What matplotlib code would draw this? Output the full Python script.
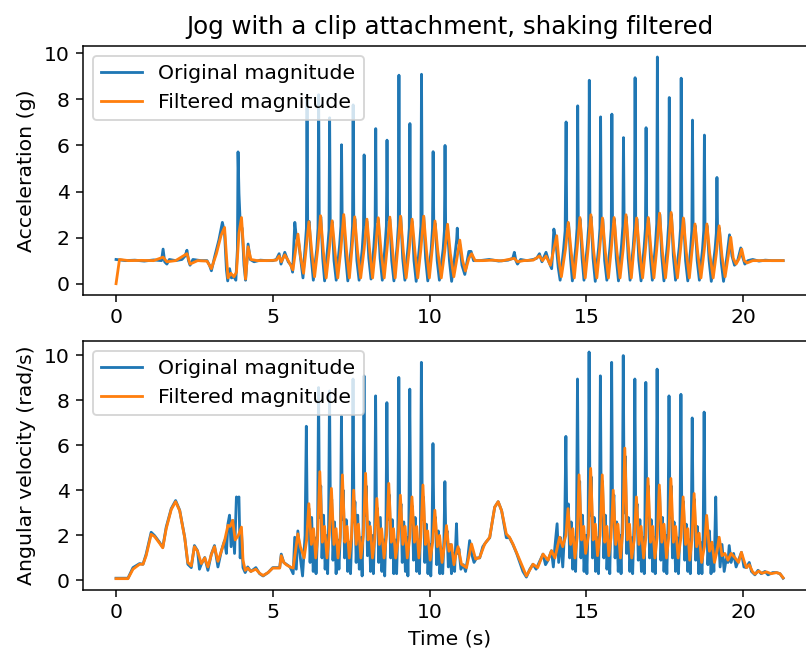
import matplotlib
matplotlib.use("Agg")
import matplotlib.pyplot as plt
import numpy as np

title = "Jog with a clip attachment, shaking filtered"
legend_labels = ["Original magnitude", "Filtered magnitude"]
ylabel_top = "Acceleration (g)"
ylabel_bottom = "Angular velocity (rad/s)"
xlabel = "Time (s)"

# (time s, value) pairs
acc_raw = [
    (0.00, 1.05), (0.30, 1.00), (0.60, 1.02), (0.90, 0.98), (1.20, 1.03), (1.45, 1.00),
    (1.50, 1.50), (1.55, 0.95), (1.62, 0.85), (1.70, 1.05), (1.90, 1.00), (2.10, 1.05),
    (2.20, 1.20), (2.26, 1.45), (2.31, 1.00), (2.36, 0.80), (2.45, 1.05), (2.70, 1.00),
    (2.90, 1.00), (2.98, 0.80), (3.04, 0.56), (3.15, 1.20), (3.28, 1.90), (3.39, 2.66),
    (3.46, 2.20), (3.52, 0.60), (3.56, 0.12), (3.62, 0.65), (3.68, 0.25), (3.76, 0.30),
    (3.82, 0.15), (3.87, 1.50), (3.89, 5.72), (3.92, 3.90), (3.96, 2.60), (4.02, 2.40),
    (4.08, 0.80), (4.13, 0.15), (4.21, 1.72), (4.28, 1.05), (4.40, 0.95), (4.60, 1.02),
    (4.80, 1.00), (5.00, 1.00), (5.11, 1.05), (5.20, 1.30), (5.26, 0.85), (5.38, 1.36),
    (5.49, 0.95), (5.58, 0.80), (5.63, 0.50), (5.70, 2.66), (5.75, 2.00), (5.82, 1.80),
    (5.90, 0.90), (5.96, 0.25),
    (6.03, 1.60), (6.07, 2.40), (6.09, 8.00), (6.11, 2.60), (6.16, 2.70), (6.22, 1.20), (6.29, 0.15),
    (6.40, 1.50), (6.44, 2.40), (6.46, 8.20), (6.48, 2.70), (6.53, 2.90), (6.59, 1.10), (6.65, 0.12),
    (6.75, 1.60), (6.79, 2.30), (6.81, 7.20), (6.83, 2.50), (6.89, 2.70), (6.95, 1.00), (7.02, 0.15),
    (7.13, 1.70), (7.17, 2.50), (7.19, 6.03), (7.21, 2.80), (7.26, 2.90), (7.32, 1.20), (7.39, 0.12),
    (7.50, 1.60), (7.54, 2.50), (7.56, 7.76), (7.58, 2.70), (7.62, 2.80), (7.68, 1.00), (7.75, 0.15),
    (7.85, 1.50), (7.89, 2.40), (7.91, 5.59), (7.93, 2.60), (8.00, 2.70), (8.06, 1.10), (8.13, 0.20),
    (8.22, 1.60), (8.26, 2.50), (8.28, 6.73), (8.30, 2.70), (8.36, 2.80), (8.42, 1.10), (8.49, 0.15),
    (8.58, 1.70), (8.62, 2.50), (8.64, 6.23), (8.66, 2.80), (8.73, 2.80), (8.79, 1.00), (8.86, 0.12),
    (8.96, 1.60), (9.00, 2.50), (9.02, 9.05), (9.04, 2.80), (9.08, 2.90), (9.14, 1.10), (9.21, 0.15),
    (9.31, 1.60), (9.35, 2.40), (9.37, 6.95), (9.39, 2.60), (9.44, 2.70), (9.50, 1.00), (9.57, 0.10),
    (9.68, 1.70), (9.72, 2.50), (9.74, 9.09), (9.76, 2.80), (9.81, 2.90), (9.87, 1.10), (9.94, 0.12),
    (10.05, 1.50), (10.09, 2.40), (10.11, 5.73), (10.13, 2.60), (10.18, 2.60), (10.24, 1.00), (10.31, 0.15),
    (10.43, 1.50), (10.47, 2.30), (10.49, 6.00), (10.51, 2.40), (10.57, 2.40), (10.63, 1.00), (10.70, 0.10),
    (10.81, 1.30), (10.86, 1.90), (10.88, 2.41), (10.90, 1.80), (10.96, 1.70), (11.03, 0.80), (11.12, 0.40),
    (11.25, 1.40), (11.32, 1.40), (11.40, 1.00), (11.60, 1.00), (11.90, 1.05), (12.20, 0.98),
    (12.50, 1.02), (12.65, 1.10), (12.70, 1.36), (12.75, 1.00), (12.80, 0.85), (12.90, 1.05),
    (13.10, 1.00), (13.30, 1.05), (13.41, 1.10), (13.50, 1.30), (13.58, 0.95), (13.71, 1.36),
    (13.80, 0.95), (13.89, 0.65), (13.96, 2.37), (14.02, 1.90), (14.10, 0.70), (14.16, 0.15),
    (14.27, 1.50), (14.32, 2.30), (14.35, 7.02), (14.37, 2.50), (14.43, 2.60), (14.49, 1.10), (14.55, 0.12),
    (14.66, 1.60), (14.70, 2.40), (14.72, 7.72), (14.74, 2.70), (14.80, 2.80), (14.86, 1.10), (14.92, 0.15),
    (15.03, 1.70), (15.07, 2.50), (15.09, 8.83), (15.11, 2.80), (15.15, 2.90), (15.21, 1.10), (15.28, 0.10),
    (15.39, 1.60), (15.43, 2.40), (15.45, 7.24), (15.47, 2.70), (15.52, 2.80), (15.58, 1.00), (15.65, 0.15),
    (15.75, 1.60), (15.79, 2.40), (15.81, 7.36), (15.83, 2.70), (15.89, 2.80), (15.95, 1.10), (16.02, 0.12),
    (16.12, 1.70), (16.16, 2.50), (16.18, 6.34), (16.20, 2.80), (16.27, 2.90), (16.33, 1.10), (16.39, 0.15),
    (16.49, 1.60), (16.53, 2.40), (16.55, 8.94), (16.57, 2.70), (16.61, 2.80), (16.67, 1.00), (16.74, 0.12),
    (16.84, 1.60), (16.88, 2.40), (16.90, 6.77), (16.92, 2.70), (16.98, 2.80), (17.04, 1.10), (17.10, 0.15),
    (17.20, 1.70), (17.24, 2.60), (17.26, 9.84), (17.28, 2.90), (17.34, 3.00), (17.40, 1.20), (17.47, 0.12),
    (17.58, 1.70), (17.62, 2.60), (17.64, 8.08), (17.66, 2.90), (17.71, 3.00), (17.77, 1.20), (17.84, 0.15),
    (17.96, 1.60), (18.00, 2.40), (18.02, 8.92), (18.04, 2.70), (18.10, 2.80), (18.16, 1.00), (18.23, 0.12),
    (18.32, 1.50), (18.36, 2.30), (18.38, 7.10), (18.40, 2.50), (18.47, 2.50), (18.53, 1.00), (18.60, 0.15),
    (18.70, 1.50), (18.74, 2.30), (18.76, 6.45), (18.78, 2.40), (18.85, 2.50), (18.91, 1.00), (18.98, 0.10),
    (19.10, 1.50), (19.14, 2.20), (19.16, 4.61), (19.18, 2.30), (19.24, 2.40), (19.30, 0.90), (19.37, 0.10),
    (19.48, 1.20), (19.53, 1.80), (19.56, 2.12), (19.59, 1.80), (19.64, 1.20), (19.72, 0.80),
    (19.82, 1.00), (19.92, 1.55), (19.97, 1.20), (20.05, 0.85), (20.15, 1.00), (20.30, 1.05),
    (20.50, 0.98), (20.70, 1.02), (20.90, 1.00), (21.10, 1.00), (21.27, 1.00),
]

acc_filt = [
    (0.00, 0.00), (0.11, 1.05), (0.40, 1.00), (0.80, 1.01), (1.20, 1.00), (1.50, 1.15),
    (1.62, 0.95), (1.90, 1.00), (2.26, 1.30), (2.36, 0.85), (2.60, 1.00), (2.90, 0.98),
    (3.04, 0.65), (3.20, 1.30), (3.35, 2.10), (3.46, 2.44), (3.52, 1.20), (3.57, 0.25),
    (3.66, 0.45), (3.76, 0.30), (3.84, 0.50), (3.92, 2.20), (4.00, 2.87), (4.07, 1.40),
    (4.13, 0.20), (4.21, 1.60), (4.30, 1.05), (4.50, 1.00), (4.80, 1.00), (5.11, 1.02),
    (5.20, 1.20), (5.27, 0.95), (5.38, 1.25), (5.49, 1.00), (5.64, 0.60), (5.72, 1.40),
    (5.80, 2.15), (5.88, 1.20), (5.98, 0.45),
    (6.06, 1.50), (6.15, 2.69), (6.24, 1.40), (6.33, 0.30),
    (6.43, 1.50), (6.52, 2.95), (6.61, 1.40), (6.70, 0.25),
    (6.80, 1.50), (6.89, 2.73), (6.98, 1.40), (7.07, 0.25),
    (7.17, 1.50), (7.26, 3.00), (7.35, 1.40), (7.44, 0.25),
    (7.52, 1.50), (7.61, 2.90), (7.70, 1.40), (7.80, 0.25),
    (7.91, 1.50), (8.00, 2.80), (8.09, 1.40), (8.18, 0.25),
    (8.27, 1.50), (8.36, 2.86), (8.45, 1.40), (8.55, 0.25),
    (8.64, 1.50), (8.73, 2.89), (8.82, 1.40), (8.90, 0.25),
    (8.98, 1.50), (9.07, 2.93), (9.16, 1.40), (9.25, 0.25),
    (9.35, 1.50), (9.44, 2.80), (9.53, 1.40), (9.62, 0.25),
    (9.72, 1.50), (9.81, 2.93), (9.90, 1.40), (9.99, 0.25),
    (10.08, 1.50), (10.17, 2.72), (10.26, 1.40), (10.37, 0.25),
    (10.48, 1.40), (10.57, 2.58), (10.66, 1.30), (10.77, 0.30),
    (10.87, 1.10), (10.96, 1.89), (11.05, 1.00), (11.14, 0.55),
    (11.25, 1.10), (11.34, 1.30), (11.45, 1.00), (11.70, 1.00), (12.00, 1.02), (12.30, 0.99),
    (12.70, 1.10), (12.80, 0.95), (13.00, 1.00), (13.30, 1.02), (13.50, 1.20), (13.60, 1.00),
    (13.71, 1.20), (13.85, 0.80), (13.96, 1.50), (14.05, 2.08), (14.12, 1.00), (14.20, 0.30),
    (14.33, 1.50), (14.42, 2.66), (14.51, 1.40), (14.61, 0.25),
    (14.70, 1.50), (14.79, 2.87), (14.88, 1.40), (14.96, 0.25),
    (15.05, 1.50), (15.14, 2.99), (15.23, 1.40), (15.33, 0.25),
    (15.42, 1.50), (15.51, 2.85), (15.60, 1.40), (15.70, 0.25),
    (15.79, 1.50), (15.88, 2.87), (15.97, 1.40), (16.07, 0.25),
    (16.17, 1.50), (16.26, 2.99), (16.35, 1.40), (16.43, 0.25),
    (16.51, 1.50), (16.60, 2.85), (16.69, 1.40), (16.79, 0.25),
    (16.88, 1.50), (16.97, 2.87), (17.06, 1.40), (17.15, 0.25),
    (17.24, 1.50), (17.33, 3.06), (17.42, 1.40), (17.52, 0.25),
    (17.61, 1.50), (17.70, 3.09), (17.79, 1.40), (17.90, 0.25),
    (18.00, 1.50), (18.09, 2.85), (18.18, 1.40), (18.28, 0.25),
    (18.37, 1.50), (18.46, 2.59), (18.55, 1.30), (18.65, 0.25),
    (18.75, 1.40), (18.84, 2.59), (18.93, 1.30), (19.04, 0.25),
    (19.14, 1.30), (19.23, 2.51), (19.32, 1.20), (19.42, 0.30),
    (19.52, 1.20), (19.60, 2.01), (19.68, 1.10), (19.77, 0.85),
    (19.87, 1.10), (19.95, 1.50), (20.03, 1.00), (20.12, 0.90), (20.30, 1.00), (20.60, 1.00),
    (21.00, 1.00), (21.27, 1.00),
]

gyr_raw = [
    (0.00, 0.10), (0.38, 0.10), (0.54, 0.57), (0.75, 0.75), (0.86, 0.72), (0.96, 1.17),
    (1.12, 2.14), (1.23, 1.99), (1.39, 1.69), (1.49, 1.47), (1.60, 2.37), (1.76, 3.19),
    (1.90, 3.55), (2.03, 3.12), (2.19, 1.92), (2.29, 0.72), (2.40, 0.57), (2.50, 1.55),
    (2.60, 1.32), (2.66, 0.50), (2.72, 0.72), (2.83, 1.02), (2.93, 0.45), (3.04, 1.17),
    (3.14, 1.55), (3.25, 0.60), (3.36, 1.32), (3.46, 1.77), (3.52, 1.20), (3.57, 2.52),
    (3.62, 2.90), (3.67, 1.50), (3.72, 2.67), (3.78, 1.20), (3.84, 3.71), (3.88, 3.60),
    (3.92, 3.71), (3.96, 1.00), (4.00, 2.20), (4.05, 0.57), (4.12, 0.35), (4.20, 0.60),
    (4.30, 0.40), (4.46, 0.57), (4.58, 0.30), (4.69, 0.20), (4.85, 0.35), (5.00, 0.57),
    (5.22, 0.57), (5.27, 1.17), (5.35, 0.80), (5.43, 0.72), (5.55, 0.60), (5.65, 0.30),
    (5.70, 1.92), (5.75, 0.50), (5.80, 2.20), (5.88, 1.00), (5.95, 0.20),
    (6.03, 2.0), (6.07, 6.85), (6.10, 2.5), (6.15, 3.2), (6.19, 0.8), (6.24, 2.8), (6.29, 0.4), (6.34, 1.9), (6.38, 0.3),
    (6.43, 2.2), (6.46, 8.57), (6.49, 2.8), (6.53, 4.2), (6.57, 1.0), (6.62, 2.9), (6.67, 0.5), (6.72, 2.0), (6.75, 0.3),
    (6.78, 2.4), (6.81, 8.42), (6.84, 2.6), (6.88, 3.6), (6.92, 0.9), (6.97, 2.6), (7.02, 0.3), (7.07, 1.8), (7.11, 0.5),
    (7.16, 2.3), (7.19, 7.30), (7.22, 2.7), (7.25, 4.0), (7.29, 1.0), (7.34, 2.7), (7.39, 0.4), (7.44, 1.7), (7.48, 0.3),
    (7.53, 2.5), (7.56, 8.95), (7.59, 2.6), (7.62, 3.5), (7.66, 0.8), (7.71, 2.9), (7.76, 0.5), (7.81, 1.9), (7.85, 0.2),
    (7.88, 2.4), (7.91, 9.09), (7.94, 2.9), (7.98, 4.2), (8.02, 1.1), (8.07, 2.6), (8.12, 0.4), (8.17, 2.0), (8.21, 0.3),
    (8.25, 2.3), (8.28, 8.20), (8.31, 2.5), (8.34, 3.2), (8.38, 0.8), (8.43, 2.8), (8.48, 0.4), (8.53, 1.8), (8.57, 0.2),
    (8.61, 2.4), (8.64, 7.90), (8.67, 2.7), (8.72, 3.8), (8.76, 1.0), (8.81, 2.7), (8.86, 0.3), (8.91, 1.8), (8.95, 0.3),
    (8.99, 2.3), (9.02, 9.02), (9.05, 2.6), (9.09, 3.4), (9.13, 0.8), (9.18, 2.6), (9.23, 0.4), (9.28, 1.9), (9.31, 0.2),
    (9.34, 2.3), (9.37, 8.50), (9.40, 2.5), (9.45, 3.3), (9.49, 0.9), (9.54, 2.8), (9.59, 0.4), (9.64, 1.8), (9.68, 0.3),
    (9.71, 2.4), (9.74, 9.69), (9.77, 2.7), (9.81, 3.7), (9.85, 0.8), (9.90, 2.5), (9.95, 0.3), (10.00, 1.6), (10.04, 0.2),
    (10.08, 2.0), (10.11, 6.08), (10.14, 2.2), (10.19, 2.8), (10.23, 0.7), (10.28, 2.2), (10.33, 0.3), (10.38, 1.4), (10.42, 0.3),
    (10.46, 1.8), (10.49, 4.39), (10.52, 1.8), (10.56, 2.2), (10.60, 0.6), (10.65, 1.6), (10.70, 0.3), (10.75, 1.2), (10.80, 0.4),
    (10.83, 1.5), (10.86, 2.52), (10.89, 1.2), (10.94, 1.4), (11.00, 0.5), (11.08, 0.7), (11.15, 0.4),
    (11.22, 1.0), (11.28, 1.77), (11.34, 1.2), (11.42, 0.8), (11.50, 1.0), (11.60, 1.0), (11.70, 1.5),
    (11.80, 1.7), (11.92, 1.9), (12.00, 2.6), (12.08, 3.26), (12.19, 3.50), (12.30, 3.1), (12.40, 2.3),
    (12.45, 1.9), (12.55, 1.9), (12.66, 1.6), (12.78, 1.2), (12.88, 0.8), (12.98, 0.4), (13.09, 0.15),
    (13.20, 0.5), (13.30, 0.72), (13.40, 0.5), (13.50, 0.8), (13.62, 1.17), (13.70, 0.7), (13.78, 0.9),
    (13.89, 1.32), (13.95, 0.6), (14.00, 1.5), (14.07, 2.52), (14.12, 0.8), (14.18, 1.9), (14.25, 0.6),
    (14.31, 2.2), (14.35, 6.40), (14.38, 2.6), (14.43, 3.4), (14.47, 1.0), (14.52, 2.6), (14.57, 0.5), (14.62, 1.9), (14.66, 0.4),
    (14.69, 2.4), (14.72, 8.95), (14.75, 2.8), (14.79, 4.4), (14.83, 1.0), (14.88, 2.9), (14.93, 0.4), (14.98, 2.0), (15.02, 0.3),
    (15.06, 2.5), (15.09, 10.15), (15.12, 2.9), (15.16, 4.6), (15.20, 1.0), (15.25, 2.8), (15.30, 0.4), (15.35, 1.9), (15.39, 0.3),
    (15.42, 2.5), (15.45, 9.09), (15.48, 2.8), (15.52, 4.4), (15.56, 1.0), (15.61, 2.9), (15.66, 0.5), (15.71, 1.8), (15.75, 0.3),
    (15.78, 2.4), (15.81, 9.69), (15.84, 2.7), (15.88, 3.8), (15.92, 1.0), (15.97, 2.6), (16.02, 0.4), (16.07, 2.0), (16.11, 0.3),
    (16.15, 2.6), (16.18, 9.99), (16.21, 3.0), (16.25, 5.5), (16.29, 1.2), (16.34, 2.8), (16.39, 0.4), (16.44, 1.9), (16.48, 0.3),
    (16.52, 2.4), (16.55, 8.95), (16.58, 2.6), (16.62, 3.4), (16.66, 0.9), (16.71, 2.7), (16.76, 0.4), (16.81, 1.9), (16.85, 0.3),
    (16.87, 2.4), (16.90, 8.80), (16.93, 2.8), (16.98, 4.2), (17.02, 1.0), (17.07, 2.7), (17.12, 0.4), (17.17, 1.9), (17.20, 0.3),
    (17.23, 2.5), (17.26, 9.39), (17.29, 2.7), (17.34, 4.0), (17.38, 0.9), (17.43, 2.8), (17.48, 0.4), (17.53, 2.0), (17.57, 0.3),
    (17.61, 2.5), (17.64, 8.20), (17.67, 2.8), (17.71, 4.2), (17.75, 1.0), (17.80, 2.6), (17.85, 0.4), (17.90, 1.9), (17.94, 0.3),
    (17.99, 2.3), (18.02, 8.27), (18.05, 2.6), (18.10, 3.5), (18.14, 0.9), (18.19, 2.5), (18.24, 0.4), (18.29, 1.8), (18.32, 0.3),
    (18.35, 2.2), (18.38, 7.22), (18.41, 2.5), (18.45, 3.6), (18.49, 0.9), (18.54, 2.4), (18.59, 0.3), (18.64, 1.7), (18.69, 0.3),
    (18.73, 2.0), (18.76, 7.48), (18.79, 2.2), (18.84, 2.8), (18.88, 0.7), (18.93, 2.2), (18.98, 0.3), (19.03, 1.5), (19.07, 0.4),
    (19.10, 1.8), (19.13, 3.71), (19.16, 1.5), (19.22, 1.9), (19.27, 0.6), (19.33, 1.6), (19.40, 0.4),
    (19.47, 1.0), (19.52, 0.8), (19.56, 1.55), (19.62, 0.8), (19.70, 1.2), (19.78, 0.6), (19.86, 0.9),
    (19.95, 1.25), (20.03, 0.6), (20.11, 0.57), (20.20, 0.8), (20.27, 0.4), (20.38, 0.25), (20.48, 0.45),
    (20.58, 0.30), (20.70, 0.40), (20.80, 0.25), (20.95, 0.35), (21.07, 0.35), (21.18, 0.30), (21.28, 0.10),
]

gyr_filt = [
    (0.00, 0.08), (0.38, 0.08), (0.54, 0.50), (0.75, 0.72), (0.86, 0.72), (0.96, 1.10),
    (1.12, 2.05), (1.23, 1.95), (1.39, 1.65), (1.49, 1.45), (1.60, 2.30), (1.76, 3.15),
    (1.90, 3.50), (2.03, 3.10), (2.19, 1.90), (2.29, 0.80), (2.40, 0.65), (2.50, 1.50),
    (2.60, 1.30), (2.72, 0.75), (2.83, 1.00), (2.93, 0.60), (3.04, 1.15), (3.14, 1.50),
    (3.25, 0.85), (3.36, 1.30), (3.46, 1.75), (3.57, 2.45), (3.64, 2.40), (3.72, 2.67),
    (3.80, 1.80), (3.90, 2.00), (4.00, 2.37), (4.05, 0.90), (4.12, 0.45), (4.20, 0.55),
    (4.30, 0.40), (4.46, 0.50), (4.58, 0.32), (4.69, 0.22), (4.85, 0.35), (5.00, 0.55),
    (5.22, 0.55), (5.27, 1.10), (5.35, 0.80), (5.43, 0.70), (5.55, 0.60), (5.65, 0.55),
    (5.80, 2.07), (5.88, 1.50), (6.00, 1.00),
    (6.08, 1.8), (6.15, 3.41), (6.23, 1.6), (6.30, 2.3), (6.37, 1.0),
    (6.43, 1.9), (6.50, 4.83), (6.58, 1.7), (6.65, 2.4), (6.73, 1.0),
    (6.80, 2.0), (6.87, 4.09), (6.95, 1.6), (7.02, 2.3), (7.08, 1.0),
    (7.15, 1.9), (7.22, 4.69), (7.30, 1.7), (7.37, 2.4), (7.44, 1.0),
    (7.51, 1.9), (7.58, 4.01), (7.66, 1.6), (7.73, 2.5), (7.81, 1.0),
    (7.89, 2.0), (7.96, 4.76), (8.04, 1.8), (8.11, 2.4), (8.18, 1.0),
    (8.25, 1.8), (8.32, 3.64), (8.40, 1.6), (8.47, 2.3), (8.55, 1.0),
    (8.63, 2.0), (8.70, 4.31), (8.78, 1.7), (8.85, 2.3), (8.92, 1.0),
    (9.00, 1.8), (9.07, 3.79), (9.15, 1.6), (9.22, 2.4), (9.29, 1.0),
    (9.37, 1.9), (9.44, 3.71), (9.52, 1.7), (9.59, 2.4), (9.66, 1.0),
    (9.72, 1.9), (9.79, 4.24), (9.87, 1.6), (9.94, 2.2), (10.02, 0.9),
    (10.10, 1.7), (10.17, 3.12), (10.25, 1.5), (10.32, 2.0), (10.40, 0.8),
    (10.47, 1.5), (10.54, 2.44), (10.62, 1.3), (10.70, 1.6), (10.78, 0.7),
    (10.85, 1.2), (10.91, 1.50), (11.02, 0.72), (11.18, 0.57), (11.34, 1.62), (11.47, 0.95),
    (11.60, 1.02), (11.76, 1.62), (11.92, 1.92), (12.08, 3.26), (12.19, 3.50), (12.30, 3.10),
    (12.45, 2.07), (12.55, 1.92), (12.66, 1.62), (12.88, 0.90), (13.09, 0.20), (13.30, 0.72),
    (13.45, 0.57), (13.62, 1.17), (13.78, 0.90), (13.89, 1.32), (14.00, 1.00), (14.15, 1.92),
    (14.25, 1.50),
    (14.35, 2.0), (14.42, 3.19), (14.50, 1.6), (14.57, 2.3), (14.64, 1.0),
    (14.71, 1.9), (14.77, 4.69), (14.85, 1.8), (14.92, 2.4), (14.98, 1.2),
    (15.07, 2.0), (15.14, 4.98), (15.22, 1.8), (15.29, 2.5), (15.36, 1.1),
    (15.44, 2.0), (15.51, 4.69), (15.59, 1.7), (15.66, 2.4), (15.72, 1.1),
    (15.79, 1.9), (15.86, 4.01), (15.94, 1.6), (16.01, 2.5), (16.09, 1.0),
    (16.16, 2.1), (16.23, 5.88), (16.31, 1.8), (16.38, 2.5), (16.45, 1.0),
    (16.53, 1.8), (16.60, 3.71), (16.68, 1.6), (16.75, 2.4), (16.83, 1.0),
    (16.90, 1.9), (16.97, 4.53), (17.05, 1.7), (17.12, 2.4), (17.19, 1.0),
    (17.26, 1.9), (17.33, 4.24), (17.41, 1.7), (17.48, 2.5), (17.56, 1.0),
    (17.63, 1.9), (17.70, 4.53), (17.78, 1.7), (17.85, 2.4), (17.93, 1.0),
    (18.02, 1.9), (18.09, 3.71), (18.17, 1.6), (18.24, 2.3), (18.30, 0.9),
    (18.37, 1.8), (18.44, 3.86), (18.52, 1.5), (18.60, 2.1), (18.68, 0.8),
    (18.77, 1.5), (18.84, 2.89), (18.93, 1.3), (19.01, 1.7), (19.09, 0.8),
    (19.17, 1.3), (19.24, 1.92), (19.33, 1.1), (19.42, 1.2), (19.52, 0.9),
    (19.62, 1.2), (19.75, 1.0), (19.86, 0.8), (19.95, 1.25), (20.05, 0.8), (20.11, 0.57),
    (20.20, 0.70), (20.30, 0.40), (20.38, 0.28), (20.50, 0.42), (20.60, 0.32), (20.75, 0.38),
    (20.90, 0.30), (21.07, 0.35), (21.18, 0.30), (21.28, 0.12),
]


def unzip(pairs):
    arr = np.array(pairs, dtype=float)
    return arr[:, 0], arr[:, 1]


plt.rcParams["font.size"] = 10.9

DPI = 135
fig = plt.figure(figsize=(806 / DPI, 657 / DPI), dpi=DPI)
ax1 = fig.add_axes([0.1026, 0.5510, 0.9104, 0.3795])
ax2 = fig.add_axes([0.1026, 0.1020, 0.9104, 0.3795])

for ax, raw, filt, ylab in [(ax1, acc_raw, acc_filt, ylabel_top),
                            (ax2, gyr_raw, gyr_filt, ylabel_bottom)]:
    t, v = unzip(raw)
    ax.plot(t, v, color="#1f77b4", label=legend_labels[0])
    t, v = unzip(filt)
    ax.plot(t, v, color="#ff7f0e", label=legend_labels[1])
    ax.set_ylabel(ylab)
    ax.set_xticks([0, 5, 10, 15, 20])
    ax.set_yticks([0, 2, 4, 6, 8, 10])
    ax.legend(loc="upper left")

ax1.set_title(title)
ax2.set_xlabel(xlabel)

fig.savefig("out.png", dpi=DPI)
